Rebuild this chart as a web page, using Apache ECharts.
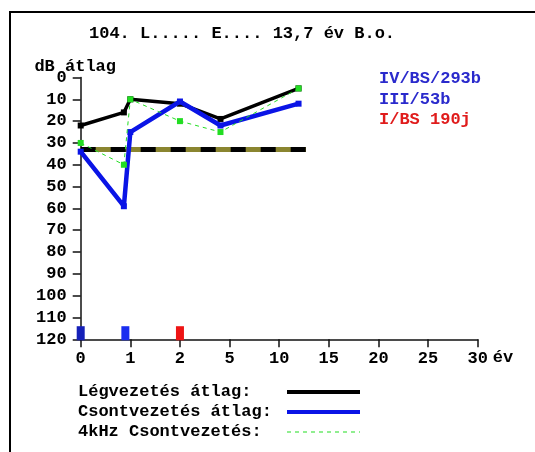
<!DOCTYPE html>
<html>
<head>
<meta charset="utf-8">
<script src="https://cdn.jsdelivr.net/npm/echarts@6/dist/echarts.min.js"></script>
<style>
  html, body { margin: 0; padding: 0; background: #fff; }
  #chart { width: 535px; height: 452px; }
</style>
</head>
<body>
<div id="chart"></div>
<script>
// Year ticks of the stretched time axis (evenly spaced on screen)
const xTickYears = [0, 1, 2, 5, 10, 15, 20, 25, 30];
const yTicks = [0, 10, 20, 30, 40, 50, 60, 70, 80, 90, 100, 110, 120];

// Examination dates (years) and averaged thresholds (dB)
const examYears = [0, 0.87, 1.0, 2.0, 4.45, 11.95];
const airAvg = [22, 16, 10, 12, 19, 5];
const boneAvg = [34, 59, 25, 11, 22, 12];
const bone4k = [30, 40, 10, 20, 25, 5];

// Reference level and its span (years)
const refLevel = 33;
const refSpan = [0, 12.7];

// Events shown along the bottom edge
const eventYears = [0, 0.9, 2.0];
const eventTop = 114;
const eventBottom = 120;
const eventNames = ['IV/BS/293b', 'III/53b', 'I/BS 190j'];

const FONT = '"Liberation Mono", "DejaVu Sans Mono", monospace';
const FONT_CSS = 'bold 17px ' + FONT;

// Piecewise-linear mapping from years to the evenly spaced tick index
function yearToPos(y) {
  for (let i = 0; i < xTickYears.length - 1; i++) {
    const a = xTickYears[i], b = xTickYears[i + 1];
    if (y <= b) return i + (y - a) / (b - a);
  }
  return xTickYears.length - 1;
}
function pairs(years, values) {
  return years.map((yr, i) => [yearToPos(yr), values[i]]);
}

const chart = echarts.init(document.getElementById('chart'), null, { renderer: 'canvas' });

const textBase = { fontFamily: FONT, fontWeight: 'bold', fontSize: 17, color: '#000' };

function label(text, x, y, fill) {
  return {
    type: 'text', silent: true, x: x, y: y,
    style: { text: text, verticalAlign: 'middle', font: FONT_CSS, fill: fill || '#000' }
  };
}
function sample(y, stroke, width, dash) {
  return {
    type: 'line', silent: true,
    shape: { x1: 287, y1: y, x2: 360, y2: y },
    style: { stroke: stroke, lineWidth: width, lineDash: dash || null }
  };
}

chart.setOption({
  animation: false,
  backgroundColor: '#fff',
  grid: { left: 80.7, right: 57.3, top: 77.5, bottom: 112.7, containLabel: false },
  xAxis: {
    type: 'value',
    min: 0,
    max: xTickYears.length - 1,
    interval: 1,
    name: 'év',
    nameLocation: 'end',
    nameGap: 15,
    nameMoveOverlap: false,
    nameTextStyle: Object.assign({}, textBase, { verticalAlign: 'top', lineHeight: 36 }),
    axisLine: { show: true, onZero: false, lineStyle: { color: '#111', width: 1.5 } },
    axisTick: { show: true, length: 8, lineStyle: { color: '#111', width: 1.5 } },
    axisLabel: Object.assign({}, textBase, {
      margin: 11,
      formatter: v => String(xTickYears[Math.round(v)])
    }),
    splitLine: { show: false }
  },
  yAxis: {
    type: 'value',
    inverse: true,
    min: 0,
    max: 120,
    interval: 10,
    name: 'dB átlag',
    nameLocation: 'start',
    nameGap: 2,
    nameMoveOverlap: false,
    nameTextStyle: Object.assign({}, textBase, { align: 'center', padding: [0, 11, 0, 0] }),
    axisLine: { show: true, lineStyle: { color: '#111', width: 1.5 } },
    axisTick: { show: true, length: 8, lineStyle: { color: '#111', width: 1.5 } },
    axisLabel: Object.assign({}, textBase, {
      margin: 14,
      formatter: v => (yTicks.indexOf(v) >= 0 ? String(v) : '')
    }),
    splitLine: { show: false }
  },
  graphic: [
    {
      type: 'rect', silent: true,
      shape: { x: 10, y: 12, width: 600, height: 520 },
      style: { fill: 'none', stroke: '#000', lineWidth: 2 }
    },
    label('104. L..... E.... 13,7 év B.o.', 89, 34),
    label(eventNames[0], 379, 79, '#2a2acc'),
    label(eventNames[1], 379, 100, '#2a2acc'),
    label(eventNames[2], 379, 120, '#e01c1c'),
    // Legend rows
    label('Légvezetés átlag:', 78, 392),
    sample(392, '#000', 4),
    label('Csontvezetés átlag:', 78, 412),
    sample(412, '#0a14e6', 4),
    label('4kHz Csontvezetés:', 78, 432),
    sample(432, '#22dd22', 1, [4, 4])
  ],
  series: [
    {
      name: 'ref-base', type: 'line', silent: true,
      data: pairs(refSpan, [refLevel, refLevel]),
      symbol: 'none',
      lineStyle: { color: '#8a8530', width: 5, cap: 'butt' },
      z: 1
    },
    {
      name: 'ref-dash', type: 'line', silent: true,
      data: pairs(refSpan, [refLevel, refLevel]),
      symbol: 'none',
      lineStyle: { color: '#000', width: 5, type: [15, 15], cap: 'butt' },
      z: 2
    },
    {
      name: 'Légvezetés átlag', type: 'line',
      data: pairs(examYears, airAvg),
      symbol: 'rect', symbolSize: 6,
      itemStyle: { color: '#000' },
      lineStyle: { color: '#000', width: 3.5 },
      z: 3
    },
    {
      name: 'Csontvezetés átlag', type: 'line',
      data: pairs(examYears, boneAvg),
      symbol: 'rect', symbolSize: 6,
      itemStyle: { color: '#0a14e6' },
      lineStyle: { color: '#0a14e6', width: 4.5 },
      z: 4
    },
    {
      name: '4kHz Csontvezetés', type: 'line',
      data: pairs(examYears, bone4k),
      symbol: 'rect', symbolSize: 6,
      itemStyle: { color: '#22dd22' },
      lineStyle: { color: '#22dd22', width: 1, type: [4, 4] },
      z: 5
    },
    {
      name: 'events', type: 'custom', silent: true, clip: false,
      data: eventYears.map((yr, i) => ({
        value: [yearToPos(yr), eventTop, eventBottom],
        itemStyle: { color: ['#1520b8', '#1a2ef0', '#ee1414'][i] }
      })),
      renderItem: (params, api) => {
        const x = api.coord([api.value(0), api.value(1)])[0];
        const top = api.coord([api.value(0), api.value(1)])[1];
        const bottom = api.coord([api.value(0), api.value(2)])[1];
        return {
          type: 'rect',
          shape: { x: x - 4, y: top, width: 8, height: bottom - top + 1 },
          style: { fill: api.visual('color') }
        };
      },
      z: 6
    }
  ]
});
</script>
</body>
</html>
